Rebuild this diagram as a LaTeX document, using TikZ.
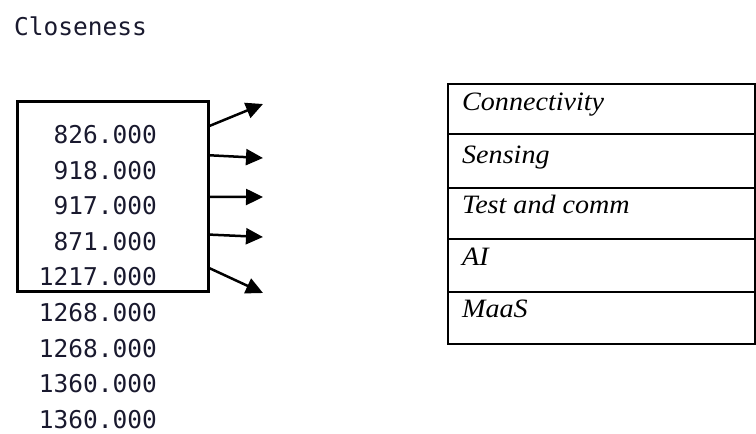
\documentclass[tikz,border=0pt]{standalone}
\usepackage{fontspec}
\usetikzlibrary{arrows.meta,calc}
\newfontfamily\monofnt{DejaVu Sans Mono}
\newfontfamily\tabfnt[FakeStretch=1.06]{Liberation Serif}
\definecolor{txtdark}{rgb}{0.1,0.1,0.18}
\tikzset{
  numtxt/.style={anchor=east, inner sep=0pt, text=txtdark, font=\monofnt\fontsize{24.5}{24.5}\selectfont},
  cell/.style={draw, line width=2.2pt, anchor=north west, minimum width=307pt, inner sep=0pt},
  celltxt/.style={anchor=base west, inner sep=0pt, font=\tabfnt\itshape\fontsize{26.5}{26.5}\selectfont},
  arr/.style={line width=2.5pt, -{Triangle[length=17pt,width=16pt]}}
}
\begin{document}
\begin{tikzpicture}[x=1pt,y=-1pt]
\useasboundingbox (0,0) rectangle (756,434);
\node[anchor=west, inner sep=0pt, text=txtdark, font=\monofnt\fontsize{24.5}{24.5}\selectfont] (title) at (14,26) {Closeness};
% box
\node[draw, line width=3pt, minimum width=191pt, minimum height=190pt, inner sep=0pt] (box) at (112.5,196) {};
% numbers
\node[numtxt] (n1) at (157,134.5) {826.000};
\node[numtxt] (n2) at (157,170.1) {918.000};
\node[numtxt] (n3) at (157,205.7) {917.000};
\node[numtxt] (n4) at (157,241.3) {871.000};
\node[numtxt] (n5) at (157,276.9) {1217.000};
\node[numtxt] (n6) at (157,312.5) {1268.000};
\node[numtxt] (n7) at (157,348.1) {1268.000};
\node[numtxt] (n8) at (157,383.7) {1360.000};
\node[numtxt] (n9) at (157,419.3) {1360.000};
% arrow ends
\coordinate (t1) at (263,104);
\coordinate (t2) at (263,158);
\coordinate (t3) at (263,197);
\coordinate (t4) at (263,237);
\coordinate (t5) at (263,293);
\draw[arr] ($(box.north east)!0.137!(box.south east)$) -- (t1);
\draw[arr] ($(box.north east)!0.289!(box.south east)$) -- (t2);
\draw[arr] ($(box.north east)!0.505!(box.south east)$) -- (t3);
\draw[arr] ($(box.north east)!0.700!(box.south east)$) -- (t4);
\draw[arr] ($(box.north east)!0.874!(box.south east)$) -- (t5);
% table
\node[cell, minimum height=50pt] (r1) at (447,83) {};
\node[cell, minimum height=54pt] (r2) at (447,133) {};
\node[cell, minimum height=51pt] (r3) at (447,187) {};
\node[cell, minimum height=53pt] (r4) at (447,238) {};
\node[cell, minimum height=52pt] (r5) at (447,291) {};
\node[celltxt] (c1) at ($(r1.north west)+(15,27)$) {Connectivity};
\node[celltxt] (c2) at ($(r2.north west)+(15,30)$) {Sensing};
\node[celltxt] (c3) at ($(r3.north west)+(15,26)$) {Test and comm};
\node[celltxt] (c4) at ($(r4.north west)+(15,27)$) {AI};
\node[celltxt] (c5) at ($(r5.north west)+(15,26)$) {MaaS};
\end{tikzpicture}
\end{document}
